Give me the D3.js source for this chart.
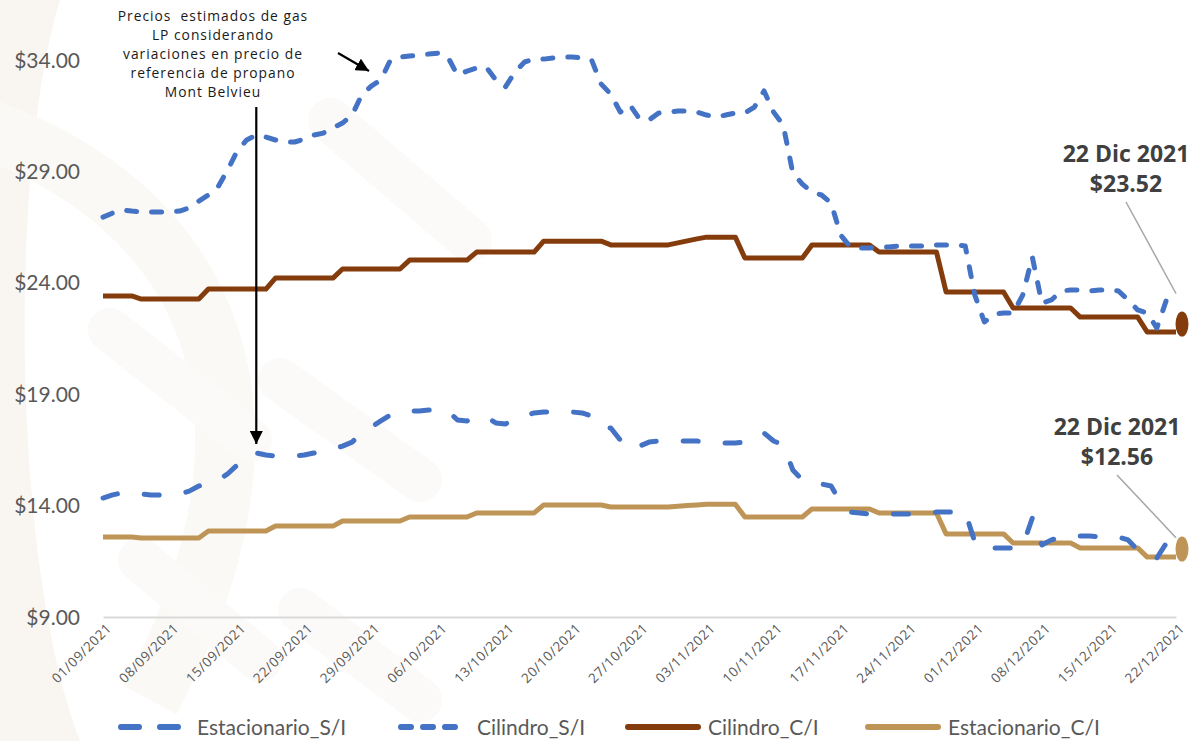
<!DOCTYPE html>
<html>
<head>
<meta charset="utf-8">
<script src="https://cdn.jsdelivr.net/npm/d3@7/dist/d3.min.js"></script>
<style>
    body { margin: 0; background: #ffffff; }
</style>
</head>
<body>
<div id="chart"></div>
<script>
// ---- data (daily, 01/09/2021 .. 22/12/2021) ----
var startDate = new Date(2021, 8, 1),
    endDate = new Date(2021, 11, 22);

var tickLabels = ["01/09/2021", "08/09/2021", "15/09/2021", "22/09/2021", "29/09/2021",
    "06/10/2021", "13/10/2021", "20/10/2021", "27/10/2021", "03/11/2021", "10/11/2021",
    "17/11/2021", "24/11/2021", "01/12/2021", "08/12/2021", "15/12/2021", "22/12/2021"];

var yTicks = [9, 14, 19, 24, 29, 34];

var seriesNames = ["Estacionario_S/I", "Cilindro_S/I", "Cilindro_C/I", "Estacionario_C/I"];

var estacionarioSI = [
    14.34, 14.48, 14.57, 14.57, 14.52, 14.48, 14.48, 14.48, 14.52, 14.65,
    14.88, 14.97, 15.15, 15.42, 15.82, 16.27, 16.36, 16.27, 16.23, 16.23,
    16.23, 16.27, 16.36, 16.45, 16.54, 16.67, 16.85, 17.26, 17.53, 17.80,
    18.07, 18.20, 18.25, 18.25, 18.29, 18.29, 18.25, 17.84, 17.80, 17.98,
    17.98, 17.71, 17.66, 17.89, 18.02, 18.16, 18.20, 18.20, 18.20, 18.20,
    18.16, 18.02, 17.53, 17.48, 16.94, 17.08, 16.67, 16.85, 16.90, 16.90,
    16.90, 16.90, 16.90, 16.85, 16.81, 16.81, 16.81, 16.85, 17.03, 17.26,
    16.90, 16.72, 15.60, 15.15, 15.10, 14.97, 14.88, 14.12, 13.71, 13.67,
    13.62, 13.62, 13.62, 13.62, 13.62, 13.62, 13.67, 13.71, 13.71, 13.71,
    13.71, 12.37, 12.05, 12.10, 12.10, 12.10, 12.19, 13.44, 12.23, 12.46,
    12.59, 12.64, 12.64, 12.64, 12.59, 12.59, 12.59, 12.46, 12.01, 11.69,
    11.65, 12.32, 12.56];

var cilindroSI = [
    26.95, 27.13, 27.27, 27.22, 27.18, 27.18, 27.18, 27.18, 27.22, 27.36,
    27.67, 27.94, 28.30, 29.06, 29.91, 30.41, 30.63, 30.54, 30.41, 30.32,
    30.32, 30.45, 30.63, 30.72, 30.95, 31.17, 31.53, 32.43, 32.83, 33.10,
    34.00, 34.13, 34.18, 34.22, 34.27, 34.31, 34.13, 33.32, 33.50, 33.64,
    33.68, 33.10, 32.79, 33.46, 33.91, 34.04, 34.04, 34.09, 34.13, 34.13,
    34.09, 34.00, 32.92, 32.47, 31.66, 31.98, 31.35, 31.31, 31.62, 31.66,
    31.71, 31.71, 31.66, 31.53, 31.44, 31.53, 31.62, 31.62, 31.89, 32.61,
    31.66, 31.08, 28.93, 28.43, 28.07, 27.94, 27.58, 26.14, 25.61, 25.56,
    25.56, 25.61, 25.61, 25.65, 25.65, 25.65, 25.65, 25.70, 25.70, 25.70,
    25.65, 23.45, 22.24, 22.60, 22.64, 22.64, 23.45, 25.16, 23.09, 23.23,
    23.63, 23.68, 23.68, 23.63, 23.68, 23.68, 23.63, 23.23, 22.78, 22.64,
    21.97, 23.23, 23.52];

var cilindroCI = [
    23.41, 23.41, 23.41, 23.41,
    23.27, 23.27, 23.27, 23.27, 23.27, 23.27, 23.27,
    23.72, 23.72, 23.72, 23.72, 23.72, 23.72, 23.72,
    24.21, 24.21, 24.21, 24.21, 24.21, 24.21, 24.21,
    24.62, 24.62, 24.62, 24.62, 24.62, 24.62, 24.62,
    25.02, 25.02, 25.02, 25.02, 25.02, 25.02, 25.02,
    25.38, 25.38, 25.38, 25.38, 25.38, 25.38, 25.38,
    25.87, 25.87, 25.87, 25.87, 25.87, 25.87, 25.87,
    25.70, 25.70, 25.70, 25.70, 25.70, 25.70, 25.70,
    25.79, 25.88, 25.97, 26.05, 26.05, 26.05, 26.05,
    25.11, 25.11, 25.11, 25.11, 25.11, 25.11, 25.11,
    25.70, 25.70, 25.70, 25.70, 25.70, 25.70, 25.70,
    25.38, 25.38, 25.38, 25.38, 25.38, 25.38, 25.38,
    23.59, 23.59, 23.59, 23.59, 23.59, 23.59, 23.59,
    22.87, 22.87, 22.87, 22.87, 22.87, 22.87, 22.87,
    22.46, 22.46, 22.46, 22.46, 22.46, 22.46, 22.46,
    21.79, 21.79, 21.79, 21.79];

var estacionarioCI = [
    12.59, 12.59, 12.59, 12.59,
    12.55, 12.55, 12.55, 12.55, 12.55, 12.55, 12.55,
    12.86, 12.86, 12.86, 12.86, 12.86, 12.86, 12.86,
    13.08, 13.08, 13.08, 13.08, 13.08, 13.08, 13.08,
    13.31, 13.31, 13.31, 13.31, 13.31, 13.31, 13.31,
    13.49, 13.49, 13.49, 13.49, 13.49, 13.49, 13.49,
    13.67, 13.67, 13.67, 13.67, 13.67, 13.67, 13.67,
    14.03, 14.03, 14.03, 14.03, 14.03, 14.03, 14.03,
    13.94, 13.94, 13.94, 13.94, 13.94, 13.94, 13.94,
    13.97, 14.00, 14.03, 14.06, 14.06, 14.06, 14.06,
    13.49, 13.49, 13.49, 13.49, 13.49, 13.49, 13.49,
    13.85, 13.85, 13.85, 13.85, 13.85, 13.85, 13.85,
    13.67, 13.67, 13.67, 13.67, 13.67, 13.67, 13.67,
    12.73, 12.73, 12.73, 12.73, 12.73, 12.73, 12.73,
    12.32, 12.32, 12.32, 12.32, 12.32, 12.32, 12.32,
    12.10, 12.10, 12.10, 12.10, 12.10, 12.10, 12.10,
    11.69, 11.69, 11.69, 11.69];

// ---- setup ----
var width = 1189, height = 741;
var days = d3.timeDay.range(startDate, d3.timeDay.offset(endDate, 1));
var parseTick = d3.timeParse("%d/%m/%Y");
var sans = "'Open Sans', sans-serif",
    labelFont = "Lato, sans-serif";

var svg = d3.select("#chart")
    .append("svg")
    .attr("width", width)
    .attr("height", height);

// very faint decorative background (mostly on the left)
var bg = svg.append("g");
bg.append("rect").attr("width", width).attr("height", height).attr("fill", "#ffffff");
bg.append("path")
    .attr("d", "M0,0 L60,0 C10,160 10,560 80,741 L0,741 Z")
    .attr("fill", "#f9f6f1");
bg.append("path")
    .attr("d", "M-40,120 C220,200 300,420 150,700")
    .attr("fill", "none").attr("stroke", "#fbf9f5").attr("stroke-width", 60);
[[110, 330, 250, 440], [280, 380, 420, 480], [330, 120, 470, 240], [140, 560, 260, 660],
 [300, 610, 420, 700]].forEach(function (s) {
    bg.append("line")
        .attr("x1", s[0]).attr("y1", s[1]).attr("x2", s[2]).attr("y2", s[3])
        .attr("stroke", "#fcfaf8").attr("stroke-width", 44).attr("stroke-linecap", "round");
});

// scales
var x = d3.scaleTime().domain([startDate, endDate]).range([103, 1176]);
var y = d3.scaleLinear().domain([9, 34]).range([617, 60]);

// y labels
svg.append("g")
    .selectAll("text")
    .data(yTicks)
    .enter().append("text")
    .attr("x", 80)
    .attr("y", function (d) { return y(d); })
    .attr("dy", "0.36em")
    .attr("text-anchor", "end")
    .style("font-family", labelFont)
    .style("font-size", "21px")
    .attr("fill", "#595959")
    .text(function (d) { return "$" + d.toFixed(2); });

// x axis
var xAxis = svg.append("g")
    .attr("transform", "translate(0," + y(9) + ")")
    .call(d3.axisBottom(x)
        .tickValues(tickLabels.map(parseTick))
        .tickSize(0)
        .tickFormat(d3.timeFormat("%d/%m/%Y")));
xAxis.select(".domain").attr("stroke", "#d9d9d9").attr("stroke-width", 2);
xAxis.selectAll("text")
    .style("font-family", sans)
    .style("font-size", "13.5px")
    .style("letter-spacing", "0.6px")
    .attr("fill", "#595959")
    .attr("text-anchor", "end")
    .attr("dy", "0.3em")
    .attr("transform", "translate(4,7) rotate(-45)");

// series
var series = [
    { name: seriesNames[0], values: estacionarioSI, color: "#4472C4", dash: "15,27", cap: "round" },
    { name: seriesNames[1], values: cilindroSI, color: "#4472C4", dash: "10,15", cap: "round" },
    { name: seriesNames[2], values: cilindroCI, color: "#843C0C", dash: null, cap: "butt" },
    { name: seriesNames[3], values: estacionarioCI, color: "#BF9557", dash: null, cap: "butt" }
];

var line = d3.line()
    .x(function (d) { return x(d.date); })
    .y(function (d) { return y(d.value); });

// draw order: solid lines first, dashed on top like the reference
[series[2], series[3], series[1], series[0]].forEach(function (s) {
    var pts = s.values.map(function (v, i) { return { date: days[i], value: v }; });
    svg.append("path")
        .datum(pts)
        .attr("fill", "none")
        .attr("stroke", s.color)
        .attr("stroke-width", 5)
        .attr("stroke-linejoin", "round")
        .attr("stroke-linecap", s.cap)
        .attr("stroke-dasharray", s.dash)
        .attr("d", line);
});

// end markers on the solid series
[series[2], series[3]].forEach(function (s) {
    var last = s.values[s.values.length - 1];
    svg.append("ellipse")
        .attr("cx", x(endDate) + 6)
        .attr("cy", y(last) - 8)
        .attr("rx", 6.5)
        .attr("ry", 12.5)
        .attr("fill", s.color);
});

// annotation: text + arrows
var note = ["Precios  estimados de gas", "LP considerando", "variaciones en precio de",
    "referencia de propano", "Mont Belvieu"];
svg.append("g")
    .selectAll("text")
    .data(note)
    .enter().append("text")
    .attr("x", 213)
    .attr("y", function (d, i) { return 21 + i * 19; })
    .attr("text-anchor", "middle")
    .style("font-family", sans)
    .style("font-size", "13.8px")
    .style("letter-spacing", "1px")
    .style("white-space", "pre")
    .attr("fill", "#1a1a1a")
    .text(function (d) { return d; });

svg.append("defs").append("marker")
    .attr("id", "arrow")
    .attr("viewBox", "0 0 10 10")
    .attr("refX", 10).attr("refY", 5)
    .attr("markerWidth", 6).attr("markerHeight", 6)
    .attr("markerUnits", "strokeWidth")
    .attr("orient", "auto")
    .append("path").attr("d", "M0,0 L10,5 L0,10 Z").attr("fill", "#000");

var arrowDate = new Date(2021, 8, 17);
svg.append("line")
    .attr("x1", x(arrowDate)).attr("y1", 107)
    .attr("x2", x(arrowDate)).attr("y2", y(estacionarioSI[16]) - 9)
    .attr("stroke", "#000").attr("stroke-width", 2.2)
    .attr("marker-end", "url(#arrow)");

svg.append("line")
    .attr("x1", 338).attr("y1", 53)
    .attr("x2", 369).attr("y2", 71)
    .attr("stroke", "#000").attr("stroke-width", 2.2)
    .attr("marker-end", "url(#arrow)");

// last-value callouts
function callout(cx, ty, value, px, py) {
    var g = svg.append("g");
    g.append("line")
        .attr("x1", cx).attr("y1", ty + 40)
        .attr("x2", px).attr("y2", py)
        .attr("stroke", "#a6a6a6").attr("stroke-width", 1.5);
    [["22 Dic 2021", 0], ["$" + value.toFixed(2), 30]].forEach(function (t) {
        g.append("text")
            .attr("x", cx).attr("y", ty + t[1])
            .attr("text-anchor", "middle")
            .style("font-family", sans)
            .style("font-weight", "bold")
            .style("font-size", "23px")
            .attr("fill", "#404040")
            .text(t[0]);
    });
}
callout(1126, 162, cilindroSI[cilindroSI.length - 1], x(endDate), y(cilindroSI[cilindroSI.length - 1]));
callout(1117, 435, estacionarioSI[estacionarioSI.length - 1], x(endDate), y(estacionarioSI[estacionarioSI.length - 1]));

// legend
var legendX = [118, 398, 628, 868];
var legend = svg.append("g").attr("transform", "translate(0,727)");
series.forEach(function (s, i) {
    var symLen = (i === 0 || i === 1) ? 67 : 70;
    legend.append("line")
        .attr("x1", legendX[i] + (s.dash ? 3 : 0)).attr("y1", 0)
        .attr("x2", legendX[i] + symLen).attr("y2", 0)
        .attr("stroke", s.color)
        .attr("stroke-width", 6)
        .attr("stroke-linecap", "round")
        .attr("stroke-dasharray", i === 0 ? "18,21" : (i === 1 ? "10,12" : null));
    legend.append("text")
        .attr("x", legendX[i] + symLen + (s.dash ? 12 : 10))
        .attr("y", 0)
        .attr("dy", "0.36em")
        .style("font-family", labelFont)
        .style("font-size", "21px")
        .attr("fill", "#595959")
        .text(s.name);
});
</script>
</body>
</html>
